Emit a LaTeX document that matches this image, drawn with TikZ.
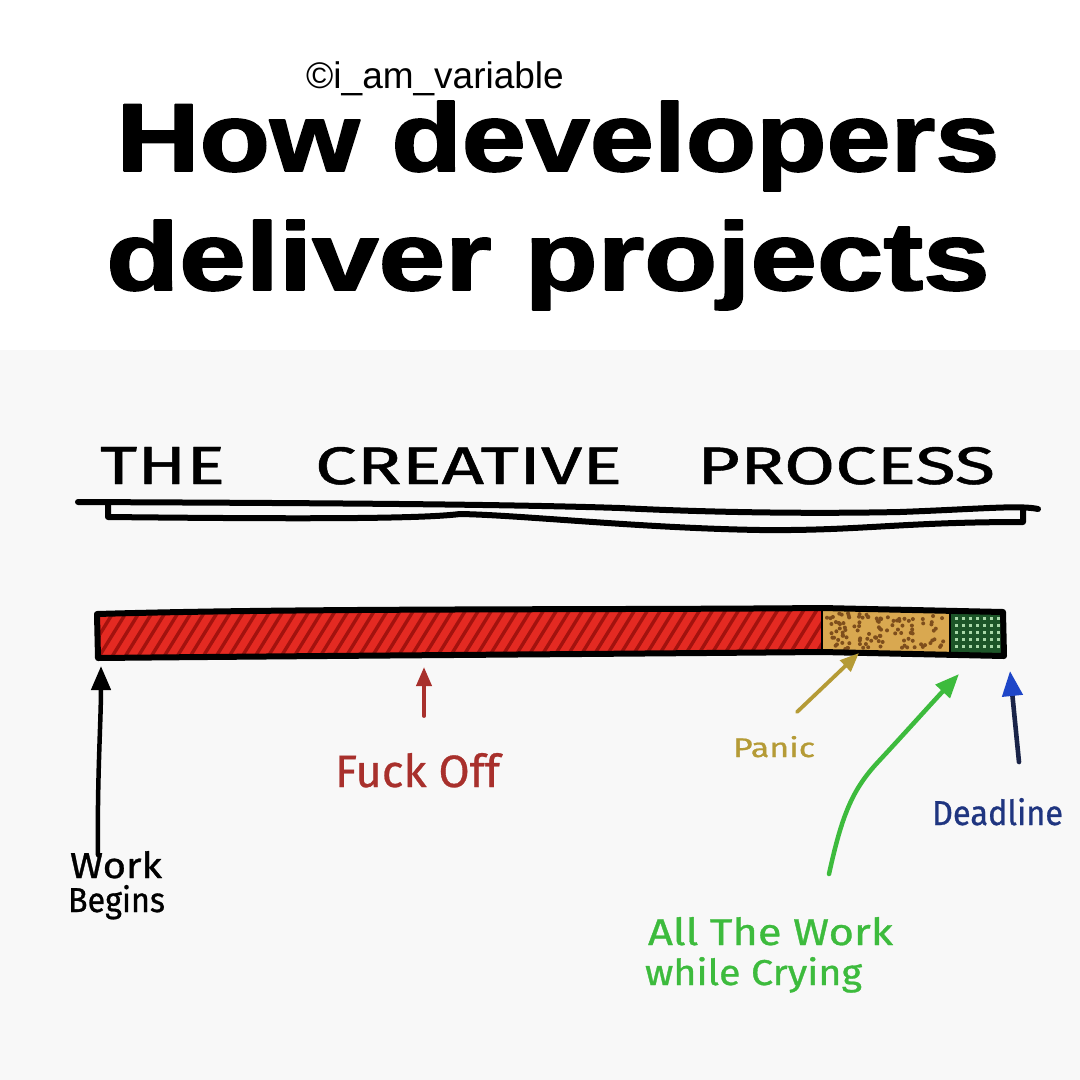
\documentclass[tikz,border=0pt]{standalone}
\usepackage{fontspec}
\setmainfont{Liberation Sans}
\newfontfamily\hwfont{Fira Sans}
\usepackage{graphicx}
\usetikzlibrary{arrows.meta}
\newcommand{\heavytext}[2]{\special{pdf:literal 2 Tr 1 j #1 w}#2\special{pdf:literal 0 Tr 0 j}}
\definecolor{bgray}{HTML}{F8F8F8}
\definecolor{barred}{HTML}{E42A22}
\definecolor{hatchred}{HTML}{A3120E}
\definecolor{tanfill}{HTML}{D9A850}
\definecolor{tandot}{HTML}{7E4E1C}
\definecolor{dgreen}{HTML}{1C5528}
\definecolor{lgreen}{HTML}{A8D8A8}
\definecolor{fuckred}{HTML}{A8302C}
\definecolor{panicol}{HTML}{B59B36}
\definecolor{cryg}{HTML}{3DBB3D}
\definecolor{deadblue}{HTML}{1F3580}
\definecolor{arrowblue}{HTML}{1E46C8}
\definecolor{navy}{HTML}{1A2448}
\tikzset{
  hwlabel/.style={inner sep=0pt, outer sep=0pt, font=\hwfont, anchor=base west},
  titlebox/.style={inner sep=0pt, outer sep=0pt, anchor=base},
  pointer/.style={line width=4.5pt, line cap=round, -{Triangle[length=24pt,width=19pt]}},
  smallpointer/.style={line width=3.8pt, line cap=round, -{Triangle[length=19pt,width=15pt]}},
  inkline/.style={line width=6pt, line cap=round, line join=round},
}
\begin{document}
\begin{tikzpicture}[x=1pt,y=-1pt]
\useasboundingbox (0,0) rectangle (1080,1080);
\fill[white] (0,0) rectangle (1080,350);
\fill[bgray] (0,350) rectangle (1080,1080);

% header
\node[titlebox] (credit) at (435,88) {\fontsize{37}{40}\selectfont ©i\_am\_variable};
\node[titlebox] (t1) at (558,171) {\resizebox{883pt}{70pt}{\bfseries \heavytext{0.18}{How developers}}};
\node[titlebox] (t2) at (548,290) {\resizebox{883pt}{70pt}{\bfseries \heavytext{0.18}{deliver projects}}};

% handwritten heading
\node[hwlabel] (the) at (100,484) {\resizebox{125pt}{37pt}{\heavytext{0.08}{THE}}};
\node[hwlabel] (creative) at (315,484) {\resizebox{307pt}{37pt}{\heavytext{0.08}{CREATIVE}}};
\node[hwlabel] (process) at (697,484) {\resizebox{298pt}{37pt}{\heavytext{0.08}{PROCESS}}};

% underline
\draw[inkline] (78,502) .. controls (300,503) and (500,504) .. (620,508)
   .. controls (700,512) and (800,514) .. (900,512)
   .. controls (980,509) and (1020,505) .. (1038,509);
\draw[inkline] (108,503) -- (108,517) .. controls (300,519) and (420,519) .. (460,514)
   .. controls (520,515) and (640,528) .. (760,530)
   .. controls (860,531) and (900,522) .. (1023,522) -- (1023,509);

% bar
\fill[barred] (97,614) .. controls (300,608) and (600,610) .. (822,608) -- (822,652)
   .. controls (600,654) and (300,656) .. (98,658) -- cycle;
\begin{scope}
\clip (97,614) .. controls (300,608) and (600,610) .. (822,608) -- (822,652)
   .. controls (600,654) and (300,656) .. (98,658) -- cycle;
\foreach \x in {40,53,...,840} \draw[hatchred,line width=3.4pt] (\x,668) -- (\x+42,600);
\end{scope}
\fill[tanfill] (822,608) -- (950,610) -- (950,654) -- (822,652) -- cycle;
\pgfmathsetseed{7}
\foreach \i in {1,...,110} \fill[tandot] ({827+118*rnd},{613+36*rnd}) circle (2pt);
\fill[dgreen] (950,610) -- (1003,612) -- (1004,656) -- (950,654) -- cycle;
\foreach \x in {955,962,...,998} \foreach \y in {617,624,...,648} \fill[lgreen] (\x,\y) rectangle ++(2.8,2.8);
\draw[line width=6pt, line join=round] (97,614) .. controls (300,608) and (600,610) .. (822,608)
   -- (1003,612) -- (1004,656) -- (822,652)
   .. controls (600,654) and (300,656) .. (98,658) -- cycle;
\draw[line width=2.5pt] (822,608) -- (822,652);
\draw[line width=2.5pt] (950,610) -- (950,654);

% arrow anchors
\coordinate (wbS) at (98,855);
\coordinate (wbE) at (101,666);
\coordinate (foS) at (424,716);
\coordinate (foE) at (424,667);
\coordinate (paS) at (797,712);
\coordinate (paE) at (859,653);
\coordinate (crS) at (829,874);
\coordinate (crE) at (959,674);
\coordinate (deS) at (1019,762);
\coordinate (deE) at (1010,671);

% labels
\node[hwlabel] (work) at (70,878) {\resizebox{92pt}{27pt}{\heavytext{0.08}{Work}}};
\node[hwlabel] (begins) at (68,912) {\resizebox{97pt}{27pt}{\heavytext{0.08}{Begins}}};
\node[hwlabel, text=fuckred] (fuck) at (335,787) {\resizebox{165pt}{34pt}{\heavytext{0.06}{Fuck Off}}};
\node[hwlabel, text=panicol] (panic) at (733,757) {\resizebox{82pt}{21pt}{\heavytext{0.08}{Panic}}};
\node[hwlabel, text=deadblue] (dead) at (932,825) {\resizebox{131pt}{27pt}{\heavytext{0.08}{Deadline}}};
\node[hwlabel, text=cryg] (allw) at (648,945) {\resizebox{245pt}{28pt}{\heavytext{0.08}{All The Work}}};
\node[hwlabel, text=cryg] (cry) at (645,985) {\resizebox{217pt}{28pt}{\heavytext{0.08}{while Crying}}};

% arrows
\draw[pointer, black] (wbS) .. controls (97,780) and (101,720) .. (wbE);
\draw[smallpointer, fuckred] (foS) -- (foE);
\draw[smallpointer, panicol] (paS) -- (paE);
\draw[pointer, cryg] (crS) .. controls (842,815) and (852,790) .. (878,762)
   .. controls (905,733) and (930,705) .. (crE);
\draw[line width=4.6pt, line cap=round, navy, -{Triangle[length=25pt,width=20pt,color=arrowblue]}] (deS) -- (deE);
\end{tikzpicture}
\end{document}
